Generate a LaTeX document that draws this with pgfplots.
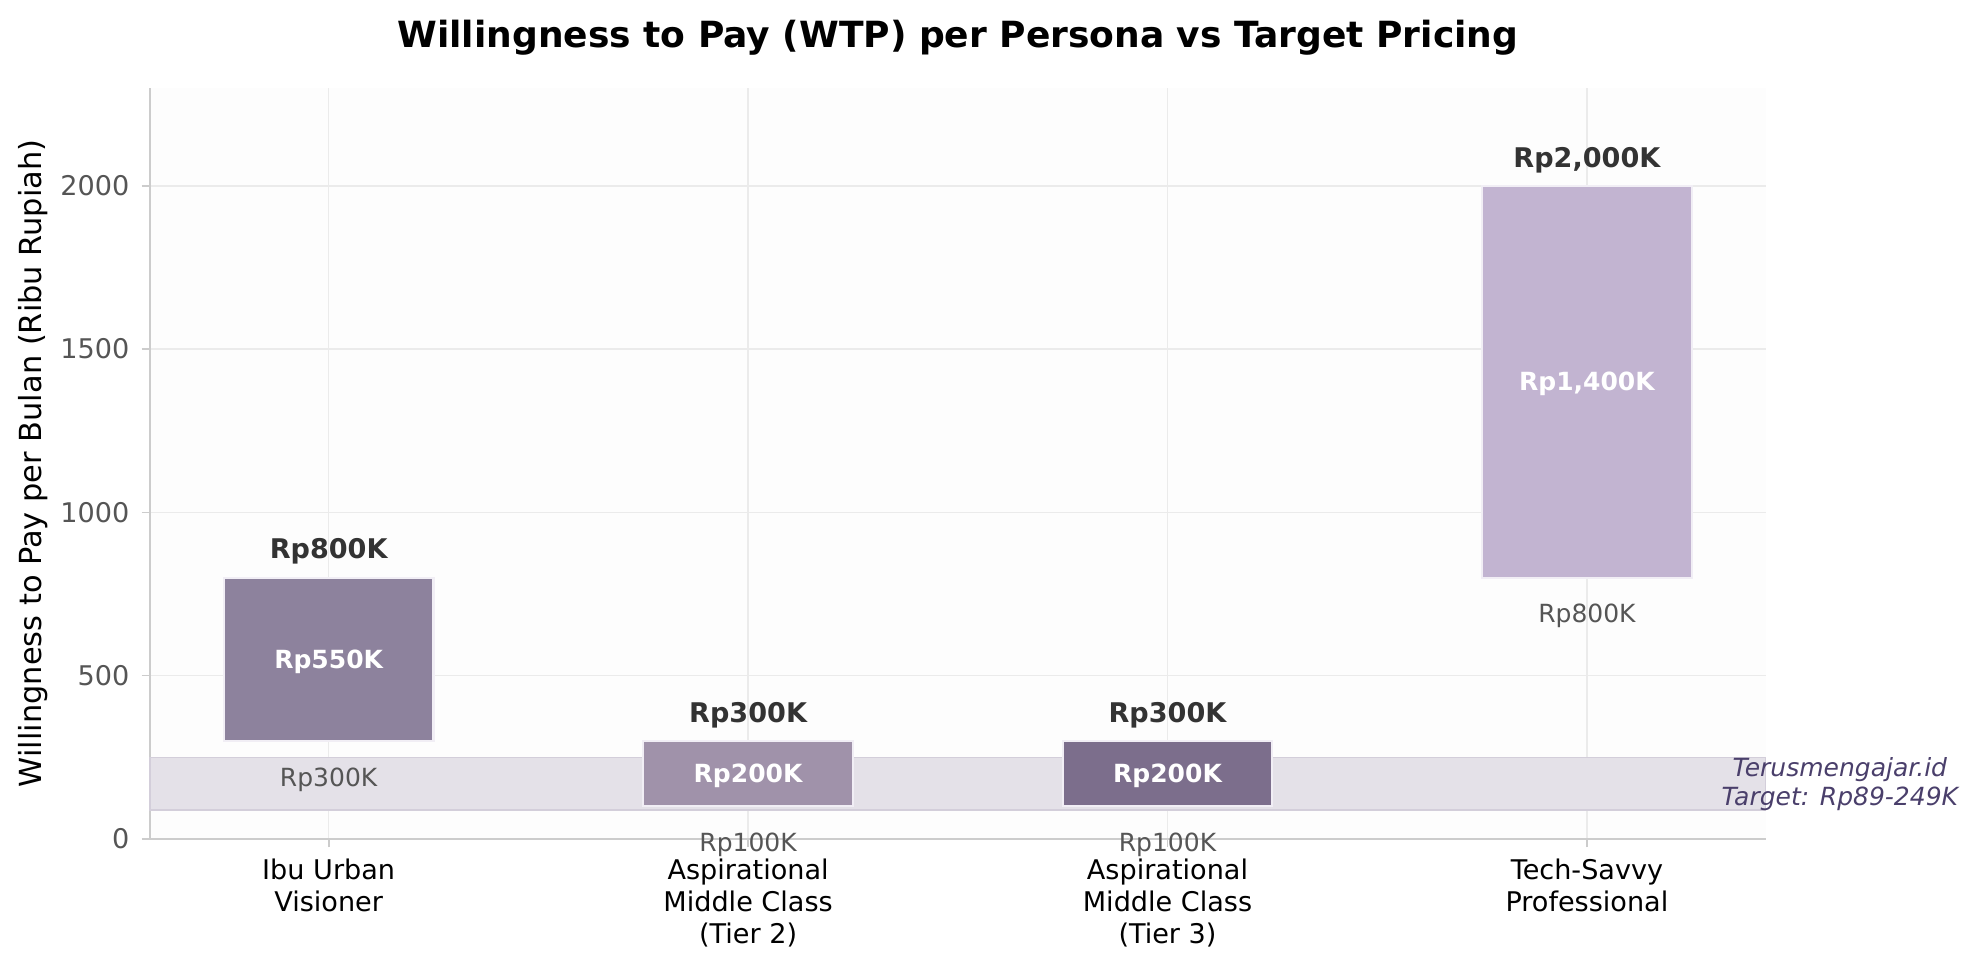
\documentclass[border=0pt]{standalone}
\usepackage{pgfplots}
\pgfplotsset{compat=1.18}
\usepackage{fontspec}
\setmainfont{DejaVu Sans}

\definecolor{barA}{HTML}{8D829D}
\definecolor{barB}{HTML}{A092AA}
\definecolor{barC}{HTML}{7C6E8C}
\definecolor{barD}{HTML}{C2B4D1}
\definecolor{barEdge}{HTML}{F1EEF5}
\definecolor{band}{HTML}{E4E1E8}
\definecolor{bandEdge}{HTML}{D3CEDA}
\definecolor{spine}{HTML}{CCCCCC}
\definecolor{gridc}{HTML}{EBEBEB}
\definecolor{tickc}{HTML}{555555}
\definecolor{toplbl}{HTML}{333333}
\definecolor{lowlbl}{HTML}{555555}
\definecolor{target}{HTML}{4A3F6B}
\definecolor{axbg}{HTML}{FDFDFD}

% WTP range per persona (ribu rupiah): low, mid, high
% 0 Ibu Urban Visioner:            300  550  800
% 1 Aspirational MC (Tier 2):      100  200  300
% 2 Aspirational MC (Tier 3):      100  200  300
% 3 Tech-Savvy Professional:       800 1400 2000

\begin{document}
\begin{tikzpicture}
\begin{axis}[
  name=ax,
  scale only axis,
  width=775.5pt, height=360.5pt,
  xmin=-0.426, xmax=3.426,
  ymin=0, ymax=2300,
  axis background/.style={fill=axbg},
  axis x line*=bottom, axis y line*=left,
  axis line style={spine, line width=1.1pt},
  xtick={0,1,2,3},
  xticklabels={{Ibu Urban\\Visioner},{Aspirational\\Middle Class\\(Tier 2)},{Aspirational\\Middle Class\\(Tier 3)},{Tech-Savvy\\Professional}},
  xticklabel style={align=center, font=\fontsize{13}{15.5}\selectfont, text=black, yshift=-2pt},
  ytick={0,500,1000,1500,2000},
  yticklabel style={font=\fontsize{13}{15}\selectfont, text=tickc, xshift=-2.4pt},
  /pgf/number format/assume math mode=true,
  /pgf/number format/set thousands separator={},
  major tick length=4pt,
  tick style={spine, line width=0.8pt},
  tick align=outside,
  grid=major,
  major grid style={gridc, line width=0.7pt},
  clip=false,
]
% target pricing band (Rp89K - Rp249K)
\draw[fill=band, draw=bandEdge, line width=0.8pt] (axis cs:-0.426,89) rectangle (axis cs:3.426,249);

% floating WTP bars from low to high
\addplot[fill=barA, draw=barEdge, line width=1pt] coordinates {(-0.25,300) (0.25,300) (0.25,800) (-0.25,800)} -- cycle;
\addplot[fill=barB, draw=barEdge, line width=1pt] coordinates {(0.75,100) (1.25,100) (1.25,300) (0.75,300)} -- cycle;
\addplot[fill=barC, draw=barEdge, line width=1pt] coordinates {(1.75,100) (2.25,100) (2.25,300) (1.75,300)} -- cycle;
\addplot[fill=barD, draw=barEdge, line width=1pt] coordinates {(2.75,800) (3.25,800) (3.25,2000) (2.75,2000)} -- cycle;

\tikzset{toplab/.style={font=\fontsize{13}{15}\selectfont\bfseries, text=toplbl, yshift=12.5pt},
         midlab/.style={font=\fontsize{12}{14}\selectfont\bfseries, text=white, yshift=-1pt},
         lowlab/.style={font=\fontsize{12}{14}\selectfont, text=lowlbl, yshift=-18.5pt}}
% max labels
\node[toplab] at (axis cs:0,800) {Rp800K};
\node[toplab] at (axis cs:1,300) {Rp300K};
\node[toplab] at (axis cs:2,300) {Rp300K};
\node[toplab] at (axis cs:3,2000) {Rp2,000K};
% midpoint labels
\node[midlab] at (axis cs:0,550) {Rp550K};
\node[midlab] at (axis cs:1,200) {Rp200K};
\node[midlab] at (axis cs:2,200) {Rp200K};
\node[midlab] at (axis cs:3,1400) {Rp1,400K};
% min labels
\node[lowlab] at (axis cs:0,300) {Rp300K};
\node[lowlab] at (axis cs:1,100) {Rp100K};
\node[lowlab] at (axis cs:2,100) {Rp100K};
\node[lowlab] at (axis cs:3,800) {Rp800K};

% band annotation
\node[font=\fontsize{12}{14}\selectfont\itshape, text=target, align=center] at (axis cs:3.603,169) {Terusmengajar.id\\Target: Rp89-249K};

% y axis label
\node[rotate=90, font=\fontsize{14.6}{17}\selectfont, text=black] at ([xshift=-56pt]rel axis cs:0,0.5) {Willingness to Pay per Bulan (Ribu Rupiah)};

% title
\node[font=\fontsize{17.3}{20}\selectfont\bfseries, text=black] at ([yshift=24pt]rel axis cs:0.5,1) {Willingness to Pay (WTP) per Persona vs Target Pricing};
\end{axis}
\pgfresetboundingbox
\path[use as bounding box] ([xshift=-72pt, yshift=-63.9pt]ax.south west) rectangle ([xshift=101pt, yshift=42.2pt]ax.north east);
\end{tikzpicture}
\end{document}
